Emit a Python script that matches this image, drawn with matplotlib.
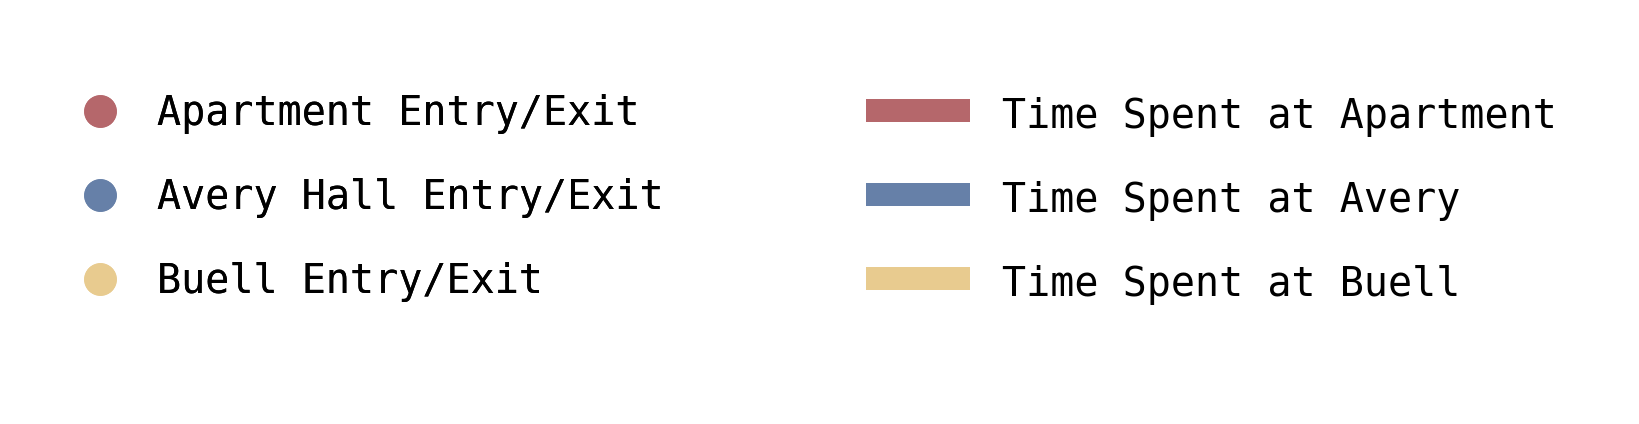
import matplotlib
matplotlib.use("Agg")
import matplotlib.pyplot as plt
from matplotlib.lines import Line2D
from matplotlib.patches import Patch, Rectangle
from matplotlib.legend_handler import HandlerPatch

# Legend entries
point_labels = ["Apartment Entry/Exit", "Avery Hall Entry/Exit", "Buell Entry/Exit"]
span_labels = ["Time Spent at Apartment", "Time Spent at Avery", "Time Spent at Buell"]
colors = ["#b5676b", "#6680a8", "#e8cb8f"]

plt.rcParams["font.family"] = ["DejaVu Sans Mono"]

fig = plt.figure(figsize=(16.4, 4.24), dpi=100)

# Left column: circles
point_handles = [
    Line2D([], [], linestyle="none", marker="o", markersize=23.5,
           markerfacecolor=c, markeredgecolor="none")
    for c in colors
]
leg1 = fig.legend(point_handles, point_labels, loc="upper left",
                  bbox_to_anchor=(80 / 1640, 1 - 94 / 424),
                  frameon=False, fontsize=28.8, handlelength=1.0,
                  handletextpad=0.925, labelspacing=1.1,
                  borderpad=0, borderaxespad=0)


# bars sit a touch above the text centre
def raised_bar(legend, orig_handle, xdescent, ydescent, width, height, fontsize):
    return Rectangle((-xdescent, -ydescent + 2.5), width, height)


# Right column: bars
span_handles = [Patch(facecolor=c, edgecolor="none") for c in colors]
leg2 = fig.legend(span_handles, span_labels, loc="upper left",
                  bbox_to_anchor=(866 / 1640, 1 - 97 / 424),
                  frameon=False, fontsize=28.8, handlelength=2.6,
                  handleheight=0.52, handletextpad=0.8, labelspacing=1.1,
                  borderpad=0, borderaxespad=0,
                  handler_map={Patch: HandlerPatch(patch_func=raised_bar)})
fig.add_artist(leg1)

fig.savefig("out.png", dpi=100, facecolor="white")
plt.close(fig)
